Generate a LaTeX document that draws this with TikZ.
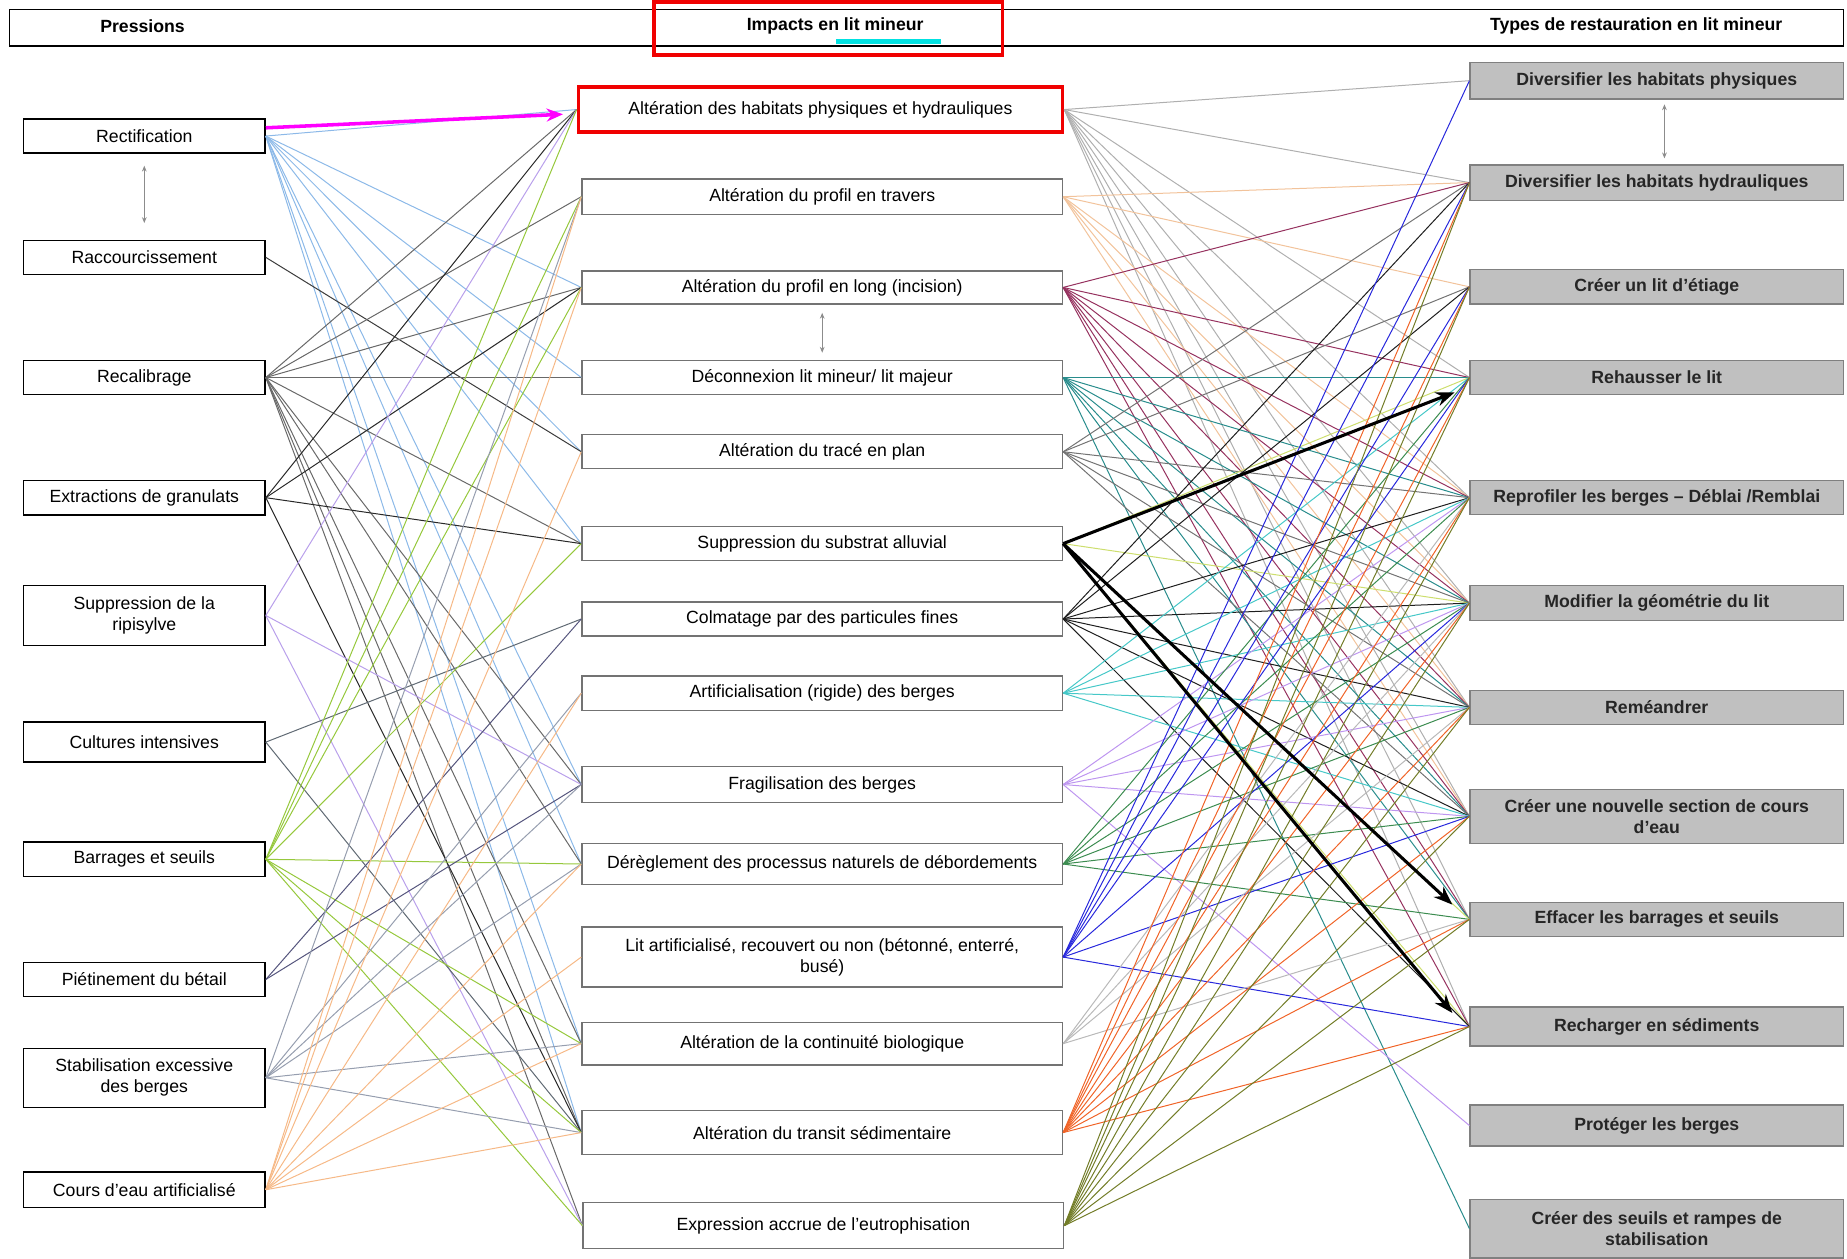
\documentclass[tikz,border=0pt]{standalone}
\usepackage{fontspec}
\setmainfont{Liberation Sans}
\usepackage{tikz}
\usetikzlibrary{arrows.meta}

\definecolor{cRect}{RGB}{140,185,232}
\definecolor{cRacc}{RGB}{60,60,60}
\definecolor{cRecal}{RGB}{105,105,105}
\definecolor{cExtr}{RGB}{40,40,40}
\definecolor{cRipi}{RGB}{185,160,235}
\definecolor{cCult}{RGB}{95,105,115}
\definecolor{cBarr}{RGB}{150,200,60}
\definecolor{cPiet}{RGB}{85,85,125}
\definecolor{cStab}{RGB}{150,158,175}
\definecolor{cCours}{RGB}{246,185,135}
\definecolor{cHab}{RGB}{175,175,175}
\definecolor{cTrav}{RGB}{242,195,155}
\definecolor{cLong}{RGB}{150,50,95}
\definecolor{cDeco}{RGB}{40,140,140}
\definecolor{cTrace}{RGB}{115,115,115}
\definecolor{cSubs}{RGB}{205,222,110}
\definecolor{cColm}{RGB}{30,30,30}
\definecolor{cArti}{RGB}{70,200,200}
\definecolor{cFrag}{RGB}{190,150,240}
\definecolor{cDebo}{RGB}{60,140,80}
\definecolor{cLit}{RGB}{40,40,220}
\definecolor{cCont}{RGB}{185,185,185}
\definecolor{cTrans}{RGB}{240,100,40}
\definecolor{cEutr}{RGB}{115,125,40}
\definecolor{resFill}{RGB}{192,192,192}
\definecolor{hlRed}{RGB}{240,0,0}
\definecolor{hlCyan}{RGB}{0,225,225}
\definecolor{hlMagenta}{RGB}{255,0,255}

\newcommand\boxfont{\fontsize{15}{18}\selectfont}

\begin{document}
\begin{tikzpicture}[x=1pt, y=-1pt, >={Stealth[]},
  pbox/.style={draw=black, line width=1.3pt, fill=white, minimum width=205pt,
    inner sep=0pt, align=center, font=\boxfont},
  ibox/.style={draw=black!55, line width=1.1pt, fill=white, minimum width=408pt,
    inner sep=0pt, align=center, font=\boxfont},
  rbox/.style={draw=black!50, line width=1.1pt, fill=resFill, minimum width=317pt,
    inner sep=0pt, align=center, font=\boxfont\bfseries, text=black!85},
  link/.style={line width=0.85pt},
  dbl/.style={<->, black!45, line width=0.9pt, >={Stealth[length=5pt, width=4pt]}},
  bigarrow/.style={->, line width=2.6pt, >={Stealth[length=16pt, width=12pt]}}]
  \useasboundingbox (0,0) rectangle (1568,1068);

  % header
  \node[draw, line width=1.3pt, minimum width=1557pt, minimum height=31pt, inner sep=0pt] (head) at (786.5,23.5) {};
  \node[font=\boxfont\bfseries] (hPress) at (121,22) {Pressions};
  \node[font=\boxfont\bfseries] (hImp) at (709,22) {Impacts en lit mineur};
  \node[font=\boxfont\bfseries] (hTypes) at (1389,22) {Types de restauration en lit mineur};
  \node[draw=hlRed, line width=3pt, minimum width=296pt, minimum height=45pt, inner sep=0pt] (hFrame) at (703,24) {};
  \draw[hlCyan, line width=4pt] (710,35) -- (799,35);

  % pressions
  \node[pbox, minimum height=29pt] (p1) at (122.5,115.5) {Rectification};
  \node[pbox, minimum height=29pt] (p2) at (122.5,218.5) {Raccourcissement};
  \node[pbox, minimum height=29pt] (p3) at (122.5,320.5) {Recalibrage};
  \node[pbox, minimum height=29pt] (p4) at (122.5,422.5) {Extractions de granulats};
  \node[pbox, minimum height=51pt] (p5) at (122.5,522.5) {Suppression de la\\ripisylve};
  \node[pbox, minimum height=34pt] (p6) at (122.5,630) {Cultures intensives};
  \node[pbox, minimum height=29pt] (p7) at (122.5,729.5) {Barrages et seuils};
  \node[pbox, minimum height=29pt] (p8) at (122.5,831.5) {Piétinement du bétail};
  \node[pbox, minimum height=50pt] (p9) at (122.5,915) {Stabilisation excessive\\des berges};
  \node[pbox, minimum height=30pt] (p10) at (122.5,1010) {Cours d'eau artificialisé};

  % impacts
  \node[ibox, draw=hlRed, line width=3pt, minimum width=411pt, minimum height=38pt] (imp1) at (696.5,93) {Altération des habitats physiques et hydrauliques};
  \node[ibox, minimum height=30pt] (imp2) at (698,167) {Altération du profil en travers};
  \node[ibox, minimum height=28pt] (imp3) at (698,244) {Altération du profil en long (incision)};
  \node[ibox, minimum height=29pt] (imp4) at (698,320.5) {Déconnexion lit mineur/ lit majeur};
  \node[ibox, minimum height=29pt] (imp5) at (698,383.5) {Altération du tracé en plan};
  \node[ibox, minimum height=29pt] (imp6) at (698,461.5) {Suppression du substrat alluvial};
  \node[ibox, minimum height=29pt] (imp7) at (698,525.5) {Colmatage par des particules fines};
  \node[ibox, minimum height=29pt] (imp8) at (698,588.5) {Artificialisation (rigide) des berges};
  \node[ibox, minimum height=30pt] (imp9) at (698,666) {Fragilisation des berges};
  \node[ibox, minimum height=35pt] (imp10) at (698,733.5) {Dérèglement des processus naturels de débordements};
  \node[ibox, minimum height=51pt] (imp11) at (698,812.5) {Lit artificialisé, recouvert ou non (bétonné, enterré,\\busé)};
  \node[ibox, minimum height=36pt] (imp12) at (698,886) {Altération de la continuité biologique};
  \node[ibox, minimum height=37pt] (imp13) at (698,961.5) {Altération du transit sédimentaire};
  \node[ibox, minimum height=39pt] (imp14) at (699,1040.5) {Expression accrue de l'eutrophisation};

  % restauration
  \node[rbox, minimum height=31pt] (res1) at (1406.5,68.5) {Diversifier les habitats physiques};
  \node[rbox, minimum height=30pt] (res2) at (1406.5,155) {Diversifier les habitats hydrauliques};
  \node[rbox, minimum height=29pt] (res3) at (1406.5,243.5) {Créer un lit d’étiage};
  \node[rbox, minimum height=29pt] (res4) at (1406.5,320.5) {Rehausser le lit};
  \node[rbox, minimum height=29pt] (res5) at (1406.5,422.5) {Reprofiler les berges – Déblai /Remblai};
  \node[rbox, minimum height=30pt] (res6) at (1406.5,512) {Modifier la géométrie du lit};
  \node[rbox, minimum height=29pt] (res7) at (1406.5,600.5) {Reméandrer};
  \node[rbox, minimum height=46pt] (res8) at (1406.5,693) {Créer une nouvelle section de cours\\d’eau};
  \node[rbox, minimum height=29pt] (res9) at (1406.5,780.5) {Effacer les barrages et seuils};
  \node[rbox, minimum height=33pt] (res10) at (1406.5,871.5) {Recharger en sédiments};
  \node[rbox, minimum height=35pt] (res11) at (1406.5,955.5) {Protéger les berges};
  \node[rbox, minimum height=50pt] (res12) at (1406.5,1043) {Créer des seuils et rampes de\\stabilisation};

  % liens pressions -> impacts
  \foreach \i in {1,3,4,5,6,9,10,12,13} \draw[link, cRect] (p1.east) -- (imp\i.west);
  \draw[link, cRacc] (p2.east) -- (imp5.west);
  \foreach \i in {1,2,3,4,6,9,10,12,13,14} \draw[link, cRecal] (p3.east) -- (imp\i.west);
  \foreach \i in {1,3,6,13} \draw[link, cExtr] (p4.east) -- (imp\i.west);
  \foreach \i in {1,9,14} \draw[link, cRipi] (p5.east) -- (imp\i.west);
  \foreach \i in {7,13} \draw[link, cCult] (p6.east) -- (imp\i.west);
  \foreach \i in {1,2,3,6,10,12,13,14} \draw[link, cBarr] (p7.east) -- (imp\i.west);
  \foreach \i in {7,9} \draw[link, cPiet] (p8.east) -- (imp\i.west);
  \foreach \i in {2,8,9,10,12,13} \draw[link, cStab] (p9.east) -- (imp\i.west);
  \foreach \i in {2,3,5,8,10,11,12,13} \draw[link, cCours] (p10.east) -- (imp\i.west);

  % liens impacts -> restauration
  \foreach \j in {1,2,4,5,6,7,8,9,10} \draw[link, cHab] (imp1.east) -- (res\j.west);
  \foreach \j in {2,3,5,6,7,8} \draw[link, cTrav] (imp2.east) -- (res\j.west);
  \foreach \j in {2,4,5,6,7,8,9,10} \draw[link, cLong] (imp3.east) -- (res\j.west);
  \foreach \j in {4,5,6,7,8,9,12} \draw[link, cDeco] (imp4.east) -- (res\j.west);
  \foreach \j in {2,3,5,6,7,8} \draw[link, cTrace] (imp5.east) -- (res\j.west);
  \foreach \j in {4,6,9,10} \draw[link, cSubs] (imp6.east) -- (res\j.west);
  \foreach \j in {2,3,5,6,7,8,10} \draw[link, cColm] (imp7.east) -- (res\j.west);
  \foreach \j in {4,5,6,7,8} \draw[link, cArti] (imp8.east) -- (res\j.west);
  \foreach \j in {5,6,7,8,11} \draw[link, cFrag] (imp9.east) -- (res\j.west);
  \foreach \j in {4,5,6,7,8,9} \draw[link, cDebo] (imp10.east) -- (res\j.west);
  \foreach \j in {1,2,3,4,6,8,10} \draw[link, cLit] (imp11.east) -- (res\j.west);
  \foreach \j in {5,6,7,9} \draw[link, cCont] (imp12.east) -- (res\j.west);
  \foreach \j in {2,3,4,5,6,7,8,9,10} \draw[link, cTrans] (imp13.east) -- (res\j.west);
  \foreach \j in {2,3,4,5,6,7,8,9,10} \draw[link, cEutr] (imp14.east) -- (res\j.west);

  % doubles fleches
  \draw[dbl, shorten <=10pt, shorten >=14pt] (p1.south) -- (p2.north);
  \draw[dbl, shorten <=7pt, shorten >=6pt] (imp3.south) -- (imp4.north);
  \draw[dbl, shorten <=4pt, shorten >=5pt] ([xshift=6.5pt]res1.south) -- ([xshift=6.5pt]res2.north);

  % fleches mises en evidence
  \coordinate (magTip) at (478,97);
  \draw[->, hlMagenta, line width=3pt, >={Stealth[length=14pt, width=11pt]}] ([yshift=7pt]p1.east) -- (magTip);
  \coordinate (tipRehau) at (1235,333);
  \coordinate (tipEffac) at (1233,768);
  \coordinate (tipRecha) at (1233,860);
  \draw[bigarrow] (imp6.east) -- (tipRehau);
  \draw[bigarrow] (imp6.east) -- (tipEffac);
  \draw[bigarrow] (imp6.east) -- (tipRecha);
\end{tikzpicture}
\end{document}
